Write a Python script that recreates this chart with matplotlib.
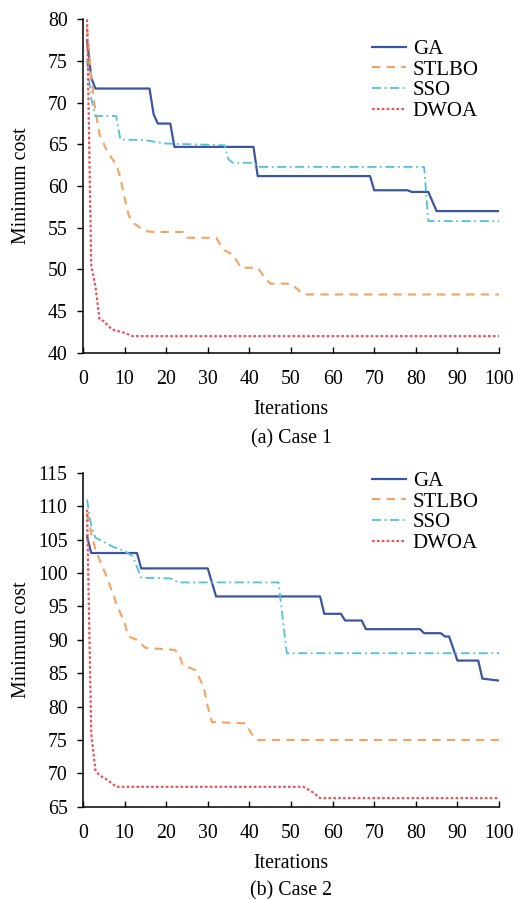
import numpy as np
from matplotlib import pyplot as plt

plt.rcParams['font.family'] = ['Liberation Serif', 'DejaVu Serif']
plt.rcParams['font.size'] = 14.3

names = ["GA", "STLBO", "SSO", "DWOA"]
colors = ["#3b55a0", "#f4a262", "#4fc2da", "#e8545a"]
styles = ["-", (0, (4, 3)), (0, (5, 2, 1, 2)), (0, (1.2, 1))]
widths = [1.6, 1.5, 1.3, 1.6]

# Case 1 (iteration, minimum cost) break points
ga1_x = [1, 2, 3, 16, 17, 18, 21, 22, 41, 42, 69, 70, 78, 79, 83, 85, 100]
ga1_y = [77.5, 73, 71.7, 71.7, 68.6, 67.5, 67.5, 64.7, 64.7, 61.2, 61.2, 59.5, 59.5, 59.3, 59.3, 57.0, 57.0]
stl1_x = [1, 2, 3, 4, 6, 8, 9, 10, 11, 12, 15, 17, 24, 25, 32, 34, 36, 38, 42, 43, 45, 50, 53, 100]
stl1_y = [79, 73, 69, 66.2, 64, 62.6, 61, 58.6, 56.5, 55.6, 54.6, 54.5, 54.5, 53.8, 53.8, 52.3, 51.8, 50.2, 50.2, 49.5, 48.3, 48.3, 47.0, 47.0]
sso1_x = [1, 2, 3, 8, 9, 15, 20, 34, 35, 36, 41, 42, 82, 83, 100]
sso1_y = [75, 70.5, 68.4, 68.4, 65.6, 65.5, 65.1, 64.9, 63.2, 62.8, 62.8, 62.3, 62.3, 55.8, 55.8]
dw1_x = [1, 2, 3, 4, 5, 7, 10, 12, 100]
dw1_y = [80, 50.5, 48, 44, 43.8, 42.8, 42.4, 42.0, 42.0]

# Case 2
ga2_x = [1, 2, 13, 14, 30, 32, 57, 58, 62, 63, 67, 68, 81, 82, 86, 87, 88, 90, 95, 96, 100]
ga2_y = [105.5, 103, 103, 100.7, 100.7, 96.5, 96.5, 93.9, 93.9, 92.9, 92.9, 91.6, 91.6, 91.0, 91.0, 90.5, 90.5, 86.9, 86.9, 84.2, 83.9]
stl2_x = [1, 2, 3, 4, 6, 8, 10, 11, 13, 15, 22, 23, 24, 27, 29, 30, 31, 39, 41, 42, 100]
stl2_y = [109, 106, 103.5, 102, 99, 95.5, 92.5, 90.5, 90, 88.8, 88.5, 88, 86.2, 85.5, 83, 80, 77.7, 77.5, 75.5, 75.0, 75.0]
sso2_x = [1, 2, 3, 4, 7, 10, 12, 14, 21, 23, 47, 49, 100]
sso2_y = [111, 107, 105.3, 105, 104, 103.3, 102.5, 99.3, 99.2, 98.6, 98.6, 88.0, 88.0]
dw2_x = [1, 2, 3, 4, 6, 8, 53, 55, 57, 100]
dw2_y = [109.5, 76, 70.5, 69.7, 69, 68, 68, 67.3, 66.3, 66.3]

cases = [
    ([ga1_x, stl1_x, sso1_x, dw1_x], [ga1_y, stl1_y, sso1_y, dw1_y], (40, 80), 5, "(a) Case 1"),
    ([ga2_x, stl2_x, sso2_x, dw2_x], [ga2_y, stl2_y, sso2_y, dw2_y], (65, 115), 5, "(b) Case 2"),
]

fig = plt.figure(figsize=(5.15, 8.99), dpi=100)
boxes = [[0.161, 0.6075, 0.808, 0.371], [0.161, 0.1025, 0.808, 0.3715]]
cap_y = [1 - 439 / 899, 1 - 891 / 899]
leg_y = [0.94, 1.004]

for i, (xs, ys, ylim, step, cap) in enumerate(cases):
    ax = fig.add_axes(boxes[i])
    for k in range(4):
        ax.plot(xs[k], ys[k], color=colors[k], linestyle=styles[k], lw=widths[k], label=names[k])
    ax.set_xlim(0, 100)
    ax.set_ylim(*ylim)
    ax.set_xticks(np.arange(0, 101, 10))
    ax.set_yticks(np.arange(ylim[0], ylim[1] + 1, step))
    ax.spines['top'].set_visible(False)
    ax.spines['right'].set_visible(False)
    ax.spines['left'].set_linewidth(1.1)
    ax.spines['bottom'].set_linewidth(1.1)
    ax.tick_params(axis='x', direction='in', length=4, width=1, pad=12)
    ax.tick_params(axis='y', direction='out', length=4, width=1, pad=7)
    ax.set_xlabel("Iterations", labelpad=8)
    ax.set_ylabel("Minimum cost")
    ax.yaxis.set_label_coords(-0.125, 0.5)
    ax.legend(loc='upper left', bbox_to_anchor=(0.695, leg_y[i]),
              frameon=False, handlelength=1.65, handletextpad=0.3,
              labelspacing=0.05, borderpad=0, borderaxespad=0, fontsize=15)
    fig.text(0.565, cap_y[i], cap, ha='center', va='center')

plt.savefig("out.png", dpi=100)
